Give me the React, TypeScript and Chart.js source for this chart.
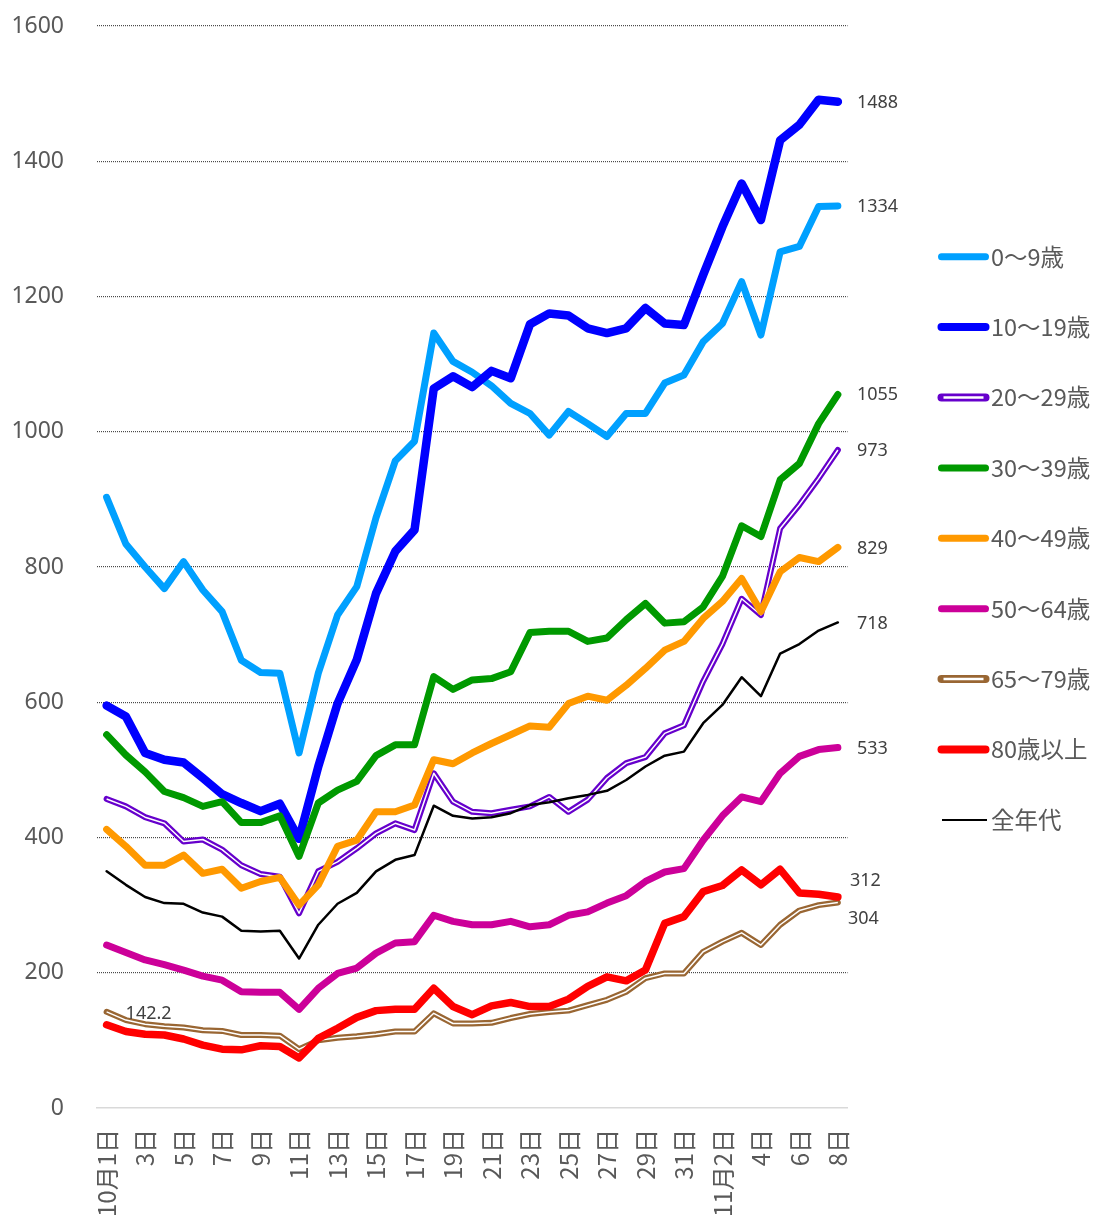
import React, { useEffect, useRef } from 'react';
import { Chart, registerables } from 'chart.js';

Chart.register(...registerables);

// ---- data ----
const dayLabels = [
  '10月1日', '2日', '3日', '4日', '5日', '6日', '7日', '8日', '9日', '10日',
  '11日', '12日', '13日', '14日', '15日', '16日', '17日', '18日', '19日', '20日',
  '21日', '22日', '23日', '24日', '25日', '26日', '27日', '28日', '29日', '30日',
  '31日', '11月1日', '11月2日', '3日', '4日', '5日', '6日', '7日', '8日',
];

const age0to9 = [
  903, 834, 800, 768, 808, 766, 734, 662, 644, 643,
  525, 643, 729, 771, 873, 957, 986, 1146, 1104, 1088,
  1068, 1042, 1027, 995, 1030, 1012, 993, 1027, 1027, 1072,
  1084, 1133, 1160, 1222, 1143, 1266, 1274, 1333, 1334,
];
const age10to19 = [
  595, 579, 525, 515, 511, 488, 464, 451, 439, 450,
  398, 505, 598, 663, 761, 823, 855, 1064, 1082, 1066,
  1090, 1079, 1159, 1175, 1172, 1153, 1146, 1153, 1183, 1160,
  1158, 1232, 1303, 1367, 1313, 1431, 1454, 1491, 1488,
];
const age20to29 = [
  457, 446, 430, 421, 394, 397, 382, 359, 346, 342,
  288, 350, 364, 384, 406, 421, 411, 495, 453, 438,
  436, 441, 446, 460, 438, 456, 488, 510, 519, 554,
  566, 631, 686, 753, 729, 857, 892, 931, 973,
];
const age30to39 = [
  552, 522, 497, 468, 459, 446, 453, 422, 422, 432,
  372, 451, 470, 483, 521, 537, 537, 638, 619, 633,
  635, 645, 703, 705, 705, 690, 695, 722, 746, 717,
  719, 741, 786, 861, 845, 929, 953, 1012, 1055,
];
const age40to49 = [
  412, 387, 359, 359, 374, 347, 353, 325, 335, 341,
  300, 330, 387, 396, 438, 438, 448, 515, 509, 525,
  539, 552, 565, 563, 598, 609, 603, 625, 650, 677,
  690, 724, 749, 783, 734, 793, 814, 808, 829,
];
const age50to64 = [
  241, 230, 219, 212, 204, 195, 189, 172, 171, 171,
  146, 177, 199, 207, 229, 244, 246, 285, 276, 271,
  271, 276, 268, 271, 285, 290, 303, 314, 335, 349,
  354, 396, 432, 460, 453, 495, 520, 530, 533,
];
const age65to79 = [
  142.2, 130, 124, 121, 119, 115, 114, 108, 108, 107,
  87, 100, 104, 106, 109, 113, 113, 140, 125, 125,
  126, 133, 139, 142, 144, 152, 160, 172, 192, 199,
  199, 231, 246, 259, 241, 271, 292, 300, 304,
];
const age80plus = [
  123, 113, 109, 108, 102, 93, 87, 86, 92, 91,
  74, 103, 118, 134, 144, 146, 146, 177, 150, 138,
  151, 156, 150, 150, 161, 180, 194, 188, 204, 273,
  283, 320, 329, 352, 330, 353, 318, 316, 312,
];
const allAges = [
  350, 330, 312, 303, 302, 289, 283, 262, 261, 262,
  221, 271, 302, 318, 350, 367, 374, 447, 432, 428,
  430, 436, 448, 452, 458, 463, 469, 485, 505, 521,
  527, 569, 596, 637, 609, 672, 686, 706, 718,
];

const seriesNames = ['0～9歳', '10～19歳', '20～29歳', '30～39歳', '40～49歳', '50～64歳', '65～79歳', '80歳以上', '全年代'];
const seriesData = [age0to9, age10to19, age20to29, age30to39, age40to49, age50to64, age65to79, age80plus, allAges];

const yTicks = { min: 0, max: 1600, step: 200 };

// ---- styles ----
const seriesStyles = [
  { color: '#00A0FF', width: 7, inner: 0, legendWidth: 7 },
  { color: '#0000FF', width: 8.5, inner: 0, legendWidth: 8 },
  { color: '#6600CC', width: 6, inner: 1.5, legendWidth: 8 },
  { color: '#009900', width: 7, inner: 0, legendWidth: 7 },
  { color: '#FF9900', width: 7, inner: 0, legendWidth: 7 },
  { color: '#CC0099', width: 7, inner: 0, legendWidth: 7 },
  { color: '#996633', width: 6, inner: 1.5, legendWidth: 8 },
  { color: '#FF0000', width: 7.5, inner: 0, legendWidth: 8 },
  { color: '#000000', width: 2.5, inner: 0, legendWidth: 2 },
];
// end-value labels: series index, x gap, y shift
const endLabelStyles = [
  { s: 1, dx: 19, dy: 1 },
  { s: 0, dx: 19, dy: 1 },
  { s: 3, dx: 19, dy: 0 },
  { s: 2, dx: 19, dy: 1 },
  { s: 4, dx: 19, dy: 1 },
  { s: 8, dx: 19, dy: 1 },
  { s: 5, dx: 19, dy: 1 },
  { s: 7, dx: 12, dy: -16 },
  { s: 6, dx: 10, dy: 16 },
];

const W = 1093;
const H = 1222;
const PLOT_LEFT = 97;
const PLOT_RIGHT = 847.5;
const PLOT_TOP = 26;
const PLOT_BOTTOM = 1108;

const LABEL_FONT = '18px "Noto Sans", "Open Sans", sans-serif';
const CJK_FONT = '"Noto Sans CJK JP", "Noto Sans", sans-serif';

export default function App() {
  const canvasRef = useRef<HTMLCanvasElement | null>(null);

  useEffect(() => {
    const canvas = canvasRef.current;
    if (!canvas) return;

    const n = seriesData.length;
    const datasets: any[] = [];
    const dsIndexOf: number[] = [];
    seriesData.forEach((data, i) => {
      const st = seriesStyles[i];
      const order = (n - i) * 2;
      dsIndexOf.push(datasets.length);
      datasets.push({
        label: seriesNames[i],
        data,
        borderColor: st.color,
        backgroundColor: st.color,
        borderWidth: st.width,
        pointRadius: 0,
        pointHoverRadius: 0,
        tension: 0,
        fill: false,
        borderCapStyle: 'round',
        borderJoinStyle: 'round',
        order,
      });
      if (st.inner) {
        datasets.push({
          label: seriesNames[i] + ' inner',
          data,
          borderColor: '#FFFFFF',
          backgroundColor: '#FFFFFF',
          borderWidth: st.inner,
          pointRadius: 0,
          pointHoverRadius: 0,
          tension: 0,
          fill: false,
          borderCapStyle: 'butt',
          borderJoinStyle: 'round',
          order: order - 1,
        });
      }
    });

    const overlay = {
      id: 'overlay',
      afterDraw(chart: any) {
        const ctx = chart.ctx as CanvasRenderingContext2D;
        ctx.save();
        // end value labels
        ctx.font = LABEL_FONT;
        ctx.fillStyle = '#404040';
        ctx.textAlign = 'left';
        ctx.textBaseline = 'middle';
        endLabelStyles.forEach((l) => {
          const meta = chart.getDatasetMeta(dsIndexOf[l.s]);
          const pts = meta.data;
          const p = pts[pts.length - 1];
          const data = seriesData[l.s];
          ctx.fillText(String(data[data.length - 1]), p.x + l.dx, p.y + l.dy);
        });
        // first-point label for 65~79
        {
          const meta = chart.getDatasetMeta(dsIndexOf[6]);
          const p = meta.data[0];
          ctx.fillText(String(age65to79[0]), p.x + 19, p.y + 2);
        }
        // legend
        const legendX1 = 941.5;
        const legendX2 = 985.5;
        const textX = 991;
        const y0 = 256.7;
        const dy = 70.4;
        ctx.font = '23.5px ' + CJK_FONT;
        seriesNames.forEach((name, i) => {
          const st = seriesStyles[i];
          const y = y0 + i * dy;
          ctx.lineCap = st.legendWidth > 3 ? 'round' : 'butt';
          ctx.strokeStyle = st.color;
          ctx.lineWidth = st.legendWidth;
          ctx.beginPath();
          if (st.legendWidth > 3) {
            ctx.moveTo(legendX1, y);
            ctx.lineTo(legendX2, y);
          } else {
            ctx.moveTo(942, y);
            ctx.lineTo(987, y);
          }
          ctx.stroke();
          if (st.inner) {
            ctx.lineCap = 'butt';
            ctx.strokeStyle = '#FFFFFF';
            ctx.lineWidth = 2.5;
            ctx.beginPath();
            ctx.moveTo(legendX1 + 2, y);
            ctx.lineTo(legendX2 - 2, y);
            ctx.stroke();
          }
          ctx.fillStyle = '#595959';
          ctx.textAlign = 'left';
          ctx.textBaseline = 'middle';
          ctx.fillText(name, textX, y);
        });
        ctx.restore();
      },
    };

    const chart = new Chart(canvas, {
      type: 'line',
      data: { labels: dayLabels, datasets },
      options: {
        responsive: false,
        animation: false,
        events: [],
        layout: {
          padding: { left: 0, right: W - PLOT_RIGHT, top: PLOT_TOP, bottom: 0 },
        },
        plugins: {
          legend: { display: false },
          tooltip: { enabled: false },
          title: { display: false },
        },
        scales: {
          x: {
            type: 'category',
            offset: true,
            grid: { display: false, drawTicks: false, offset: true },
            border: { display: true, color: '#D9D9D9', width: 1.5 },
            ticks: {
              autoSkip: false,
              maxRotation: 90,
              minRotation: 90,
              padding: 21,
              color: '#595959',
              font: { family: CJK_FONT, size: 24 },
              callback: (_v: any, idx: number) => (idx % 2 === 0 ? dayLabels[idx] : ''),
            },
            afterFit: (scale: any) => {
              scale.height = H - PLOT_BOTTOM;
            },
          },
          y: {
            min: yTicks.min,
            max: yTicks.max,
            border: { display: false, dash: [1, 1] },
            grid: {
              drawTicks: true,
              tickLength: 30,
              tickColor: 'rgba(0,0,0,0)',
              lineWidth: 1.2,
              color: (c: any) => (c.tick && c.tick.value === 0 ? 'rgba(0,0,0,0)' : '#4a4a4a'),
            },
            ticks: {
              stepSize: yTicks.step,
              padding: 3,
              color: '#595959',
              font: { family: '"Noto Sans", "Open Sans", sans-serif', size: 23 },
              callback: (v: any) => String(v),
            },
            afterFit: (scale: any) => {
              scale.width = PLOT_LEFT;
            },
          },
        },
      },
      plugins: [overlay],
    } as any);

    return () => {
      chart.destroy();
    };
  }, []);

  return (
    <div style={{ position: 'absolute', left: 0, top: 0, width: W, height: H, background: '#FFFFFF' }}>
      <canvas ref={canvasRef} width={W} height={H} style={{ display: 'block', width: W, height: H }} />
    </div>
  );
}
